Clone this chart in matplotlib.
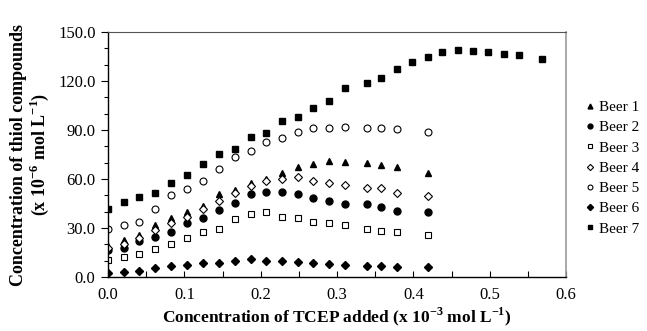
import matplotlib
matplotlib.use('Agg')
import matplotlib.pyplot as plt
from matplotlib.ticker import MultipleLocator, FormatStrFormatter

plt.rcParams['font.family'] = ['Liberation Serif', 'DejaVu Serif']
plt.rcParams['mathtext.fontset'] = 'custom'
plt.rcParams['mathtext.rm'] = 'Liberation Serif'
plt.rcParams['mathtext.bf'] = 'Liberation Serif:bold'

# TCEP added (x 10^-3 mol/L)
tcep = [0, 0.021, 0.041, 0.062, 0.083, 0.104, 0.124, 0.145, 0.166, 0.187,
        0.207, 0.228, 0.249, 0.269, 0.290, 0.311, 0.339, 0.357, 0.378, 0.419]
tcep7 = tcep[:19] + [0.398, 0.419, 0.438, 0.458, 0.478, 0.498, 0.519, 0.538, 0.568]

beer1 = [19.2, 22.7, 25.7, 31.8, 35.9, 39.8, 43.7, 50.8, 53.1, 57.7,
         59.8, 63.9, 67.2, 69.2, 71.2, 70.6, 70.0, 68.6, 67.5, 63.5]
beer2 = [16.5, 18.0, 22.0, 24.3, 27.8, 32.9, 36.1, 41.0, 45.5, 51.0,
         52.2, 52.2, 50.8, 48.2, 46.7, 44.7, 44.5, 43.1, 40.4, 40.0]
beer3 = [10.4, 12.0, 14.1, 17.0, 20.2, 23.9, 27.4, 29.6, 35.5, 38.4,
         40.0, 36.9, 35.9, 33.9, 32.9, 31.8, 29.4, 28.2, 27.4, 25.7]
beer4 = [17.5, 20.5, 24.0, 28.8, 33.3, 36.9, 41.6, 46.5, 51.2, 55.5,
         58.8, 59.8, 61.0, 58.8, 57.8, 56.5, 54.3, 54.3, 51.2, 49.6]
beer5 = [29.2, 32.0, 33.7, 41.8, 50.0, 53.7, 58.8, 66.4, 73.3, 77.4,
         82.9, 85.4, 88.8, 91.0, 91.4, 92.0, 91.4, 91.0, 90.8, 88.6]
beer6 = [2.7, 3.1, 3.9, 5.5, 6.7, 7.6, 8.4, 8.8, 9.8, 10.8,
         10.0, 9.8, 9.4, 8.4, 7.8, 7.3, 6.7, 6.7, 5.9, 6.3]
beer7 = [41.6, 46.1, 49.0, 51.6, 57.7, 62.3, 69.4, 75.6, 78.4, 85.5,
         88.5, 95.4, 97.8, 103.4, 107.8, 115.6, 118.6, 121.7, 127.4, 131.5,
         134.6, 137.7, 139.1, 138.6, 137.8, 136.4, 135.8, 133.5]

fig = plt.figure(figsize=(6.47, 3.31), dpi=100)
ax = fig.add_axes([0.167, 0.163, 0.708, 0.740])

ax.plot(tcep, beer1, '^', color='black', ms=5, label='Beer 1')
ax.plot(tcep, beer2, 'o', color='black', ms=5, label='Beer 2')
ax.plot(tcep, beer3, 's', mfc='white', mec='black', mew=0.8, ms=5, label='Beer 3')
ax.plot(tcep, beer4, 'D', mfc='white', mec='black', mew=0.8, ms=4.5, label='Beer 4')
ax.plot(tcep, beer5, 'o', mfc='white', mec='black', mew=0.8, ms=5, label='Beer 5')
ax.plot(tcep, beer6, 'D', color='black', ms=4.5, label='Beer 6')
ax.plot(tcep7, beer7, 's', color='black', ms=5, label='Beer 7')

ax.set_xlim(0, 0.6)
ax.set_ylim(0, 150)
ax.xaxis.set_major_locator(MultipleLocator(0.1))
ax.xaxis.set_minor_locator(MultipleLocator(0.05))
ax.yaxis.set_major_locator(MultipleLocator(30))
ax.yaxis.set_minor_locator(MultipleLocator(10))
ax.xaxis.set_major_formatter(FormatStrFormatter('%.1f'))
ax.yaxis.set_major_formatter(FormatStrFormatter('%.1f'))
ax.tick_params(axis='x', which='both', direction='in', length=4, width=0.8, labelsize=12, pad=7)
ax.tick_params(axis='y', which='major', direction='out', length=5, width=0.8, labelsize=12, pad=4)
ax.tick_params(axis='y', which='minor', direction='out', length=3, width=0.8)

for s in ['left', 'bottom']:
    ax.spines[s].set_linewidth(1.0)
ax.spines['top'].set_color('#555555')
ax.spines['top'].set_linewidth(0.8)
ax.spines['right'].set_color('#999999')
ax.spines['right'].set_linewidth(1.2)

ax.set_xlabel(r'Concentration of TCEP added (x 10$^{\mathbf{-3}}$ mol L$^{\mathbf{-1}}$)',
              fontsize=12.5, fontweight='bold', labelpad=2)
ax.set_ylabel('Concentration of thiol compounds\n' + r'(x 10$^{\mathbf{-6}}$ mol L$^{\mathbf{-1}}$)',
              fontsize=13, fontweight='bold', labelpad=5, linespacing=1.05)

fig.legend(loc='upper left', bbox_to_anchor=(0.895, 0.715), frameon=False,
           fontsize=11, markerscale=0.7, handlelength=0.6, handletextpad=0.3,
           labelspacing=0.43, borderaxespad=0)

fig.savefig('out.png', dpi=100)
